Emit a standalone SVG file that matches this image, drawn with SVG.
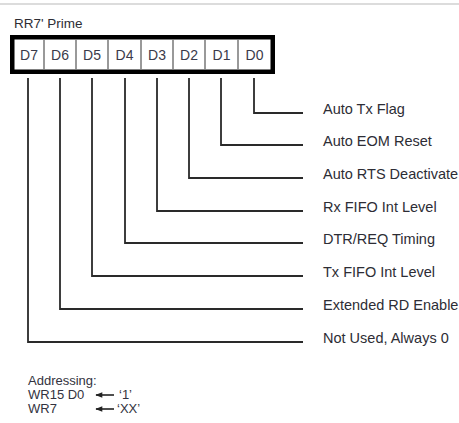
<svg xmlns="http://www.w3.org/2000/svg" width="459" height="423" viewBox="0 0 459 423">
  <style>
    .lbl { font-family: "Liberation Sans", Arial, sans-serif; font-size: 14.5px; fill: #2d2d35; }
    .cell { font-family: "Liberation Sans", Arial, sans-serif; font-size: 14px; fill: #3a3a4a; text-anchor: middle; }
    .small { font-family: "Liberation Sans", Arial, sans-serif; font-size: 13px; fill: #333340; }
    .conn { fill: none; stroke: #2a2a2a; stroke-width: 1.8; }
    .div { stroke: #777; stroke-width: 1.5; }
  </style>
  <defs>
    <marker id="ah" viewBox="0 0 10 10" refX="1" refY="5" markerWidth="8" markerHeight="7" orient="auto" markerUnits="userSpaceOnUse">
      <path d="M0,5 L10,1 L10,9 Z" fill="#222"/>
    </marker>
  </defs>
  <rect x="0" y="0" width="459" height="423" fill="#ffffff"/>
  <rect x="0" y="3" width="459" height="2" fill="#dcdcdc"/>

  <text class="lbl" x="14" y="28" style="font-size:13.5px">RR7' Prime</text>

  <g id="register">
    <rect x="12.25" y="37.25" width="260.5" height="34.5" fill="#fff" stroke="#000" stroke-width="4.5"/>
    <line class="div" x1="44" y1="39.5" x2="44" y2="69.5"/>
    <line class="div" x1="76" y1="39.5" x2="76" y2="69.5"/>
    <line class="div" x1="108" y1="39.5" x2="108" y2="69.5"/>
    <line class="div" x1="141" y1="39.5" x2="141" y2="69.5"/>
    <line class="div" x1="173" y1="39.5" x2="173" y2="69.5"/>
    <line class="div" x1="205" y1="39.5" x2="205" y2="69.5"/>
    <line class="div" x1="238" y1="39.5" x2="238" y2="69.5"/>
    <g id="d7"><text class="cell" x="29" y="60">D7</text></g>
    <g id="d6"><text class="cell" x="60" y="60">D6</text></g>
    <g id="d5"><text class="cell" x="92" y="60">D5</text></g>
    <g id="d4"><text class="cell" x="124.5" y="60">D4</text></g>
    <g id="d3"><text class="cell" x="157" y="60">D3</text></g>
    <g id="d2"><text class="cell" x="189" y="60">D2</text></g>
    <g id="d1"><text class="cell" x="221.5" y="60">D1</text></g>
    <g id="d0"><text class="cell" x="254.5" y="60">D0</text></g>
  </g>

  <g id="connectors">
    <path class="conn" d="M254,78 V113 H303"/>
    <path class="conn" d="M221,78 V145 H303"/>
    <path class="conn" d="M189,78 V178 H303"/>
    <path class="conn" d="M157,78 V211 H303"/>
    <path class="conn" d="M125,78 V243 H303"/>
    <path class="conn" d="M92,78 V276 H303"/>
    <path class="conn" d="M60,78 V309 H303"/>
    <path class="conn" d="M28,78 V342 H303"/>
  </g>

  <g id="labels">
    <g id="lbl-d0"><text class="lbl" x="323" y="114">Auto Tx Flag</text></g>
    <g id="lbl-d1"><text class="lbl" x="323" y="146">Auto EOM Reset</text></g>
    <g id="lbl-d2"><text class="lbl" x="323" y="179">Auto RTS Deactivate</text></g>
    <g id="lbl-d3"><text class="lbl" x="323" y="212">Rx FIFO Int Level</text></g>
    <g id="lbl-d4"><text class="lbl" x="323" y="244">DTR/REQ Timing</text></g>
    <g id="lbl-d5"><text class="lbl" x="323" y="277">Tx FIFO Int Level</text></g>
    <g id="lbl-d6"><text class="lbl" x="323" y="310">Extended RD Enable</text></g>
    <g id="lbl-d7"><text class="lbl" x="323" y="343">Not Used, Always 0</text></g>
  </g>

  <g id="addressing">
    <text class="small" x="28" y="385">Addressing:</text>
    <text class="small" x="28" y="399">WR15 D0</text>
    <text class="small" x="28" y="413">WR7</text>
    <line x1="96" y1="395" x2="114" y2="395" stroke="#222" stroke-width="1.6" marker-start="url(#ah)"/>
    <line x1="96" y1="409" x2="114" y2="409" stroke="#222" stroke-width="1.6" marker-start="url(#ah)"/>
    <text class="small" x="119" y="399">‘1’</text>
    <text class="small" x="117" y="413">‘XX’</text>
  </g>
</svg>
